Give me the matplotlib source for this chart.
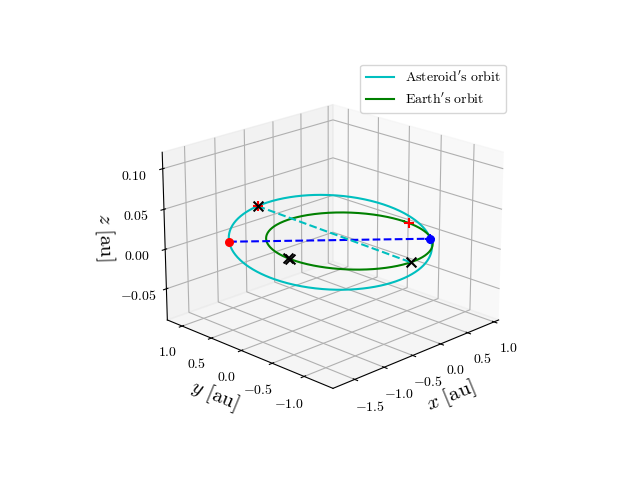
import numpy as np
import matplotlib
matplotlib.use("Agg")
import matplotlib.pyplot as plt

plt.rcParams['mathtext.fontset'] = 'cm'
plt.rcParams['font.family'] = 'serif'
plt.rcParams['font.serif'] = ['DejaVu Serif']

# asteroid orbital elements
a_ast = 1.22
e_ast = 0.19
inc_deg = 0.8
peri_dir_deg = -40.0    # direction of perihelion (= ascending node)
# Earth
r_earth = 1.0

node_nu = [180.0, 0.0]            # red (descending node), blue (perihelion)
x_marks_ast_nu = [138.0]
x_marks_earth_th = [-92.0, 176.0, 178.0]
plus_earth_th = [-5.0]

def ast_pos(nu_deg):
    nu = np.radians(np.asarray(nu_deg, float))
    r = a_ast * (1 - e_ast**2) / (1 + e_ast * np.cos(nu))
    w = np.radians(peri_dir_deg)
    i = np.radians(inc_deg)
    u = r * np.cos(nu)
    v = r * np.sin(nu)
    x = u * np.cos(w) - v * np.cos(i) * np.sin(w)
    y = u * np.sin(w) + v * np.cos(i) * np.cos(w)
    z = v * np.sin(i)
    return x, y, z

def earth_pos(th_deg):
    t = np.radians(np.asarray(th_deg, float))
    return r_earth * np.cos(t), r_earth * np.sin(t), 0 * t

fig = plt.figure(figsize=(6.4, 4.8), dpi=100)
ax = fig.add_subplot(projection='3d')
nu = np.linspace(0, 360, 400)
ax.plot(*ast_pos(nu), color='c', label=r"$\mathrm{Asteroid's\ orbit}$")
ax.plot(*earth_pos(nu), color='g', label=r"$\mathrm{Earth's\ orbit}$")

q = ast_pos([node_nu[0]]); p = ast_pos([node_nu[1]])
ax.plot([q[0][0], p[0][0]], [q[1][0], p[1][0]], [q[2][0], p[2][0]], 'b--')
ax.scatter(q[0], q[1], q[2], color='r', s=30, depthshade=False)
ax.scatter(p[0], p[1], p[2], color='b', s=30, depthshade=False)
ax.scatter(p[0], p[1], p[2], color='b', marker='+', s=60, depthshade=False)

xa = ast_pos(x_marks_ast_nu)
xe = earth_pos(x_marks_earth_th)
ax.plot([xa[0][0], xe[0][0]], [xa[1][0], xe[1][0]], [xa[2][0], xe[2][0]], 'c--')
ax.scatter(xa[0], xa[1], xa[2], marker='+', color='r', s=50, depthshade=False)
ax.scatter(xa[0], xa[1], xa[2], marker='x', color='k', s=50, depthshade=False)
ax.scatter(xe[0], xe[1], xe[2], marker='x', color='k', s=50, depthshade=False)
pe = earth_pos(plus_earth_th)
ax.scatter(pe[0], pe[1], pe[2], marker='+', color='r', s=50, depthshade=False)

ax.set_xlabel(r'$x\ [\mathrm{au}]$', fontsize=15)
ax.set_ylabel(r'$y\ [\mathrm{au}]$', fontsize=15)
ax.set_zlabel(r'$z\ [\mathrm{au}]$', fontsize=15)
ax.set_xticks([-1.5, -1.0, -0.5, 0.0, 0.5, 1.0])
ax.set_yticks([-1.0, -0.5, 0.0, 0.5, 1.0])
ax.set_zticks([-0.05, 0.0, 0.05, 0.10])
ax.xaxis.set_major_formatter(plt.FuncFormatter(lambda v, p: r'$%.1f$' % v))
ax.yaxis.set_major_formatter(plt.FuncFormatter(lambda v, p: r'$%.1f$' % v))
ax.zaxis.set_major_formatter(plt.FuncFormatter(lambda v, p: r'$%.2f$' % v))
ax.set_xlim(-1.86, 1.09)
ax.set_ylim(-1.44, 1.26)
ax.set_zlim(-0.09, 0.12)
ax.view_init(elev=20, azim=-135)
ax.legend(loc='upper right', fontsize=10)
fig.savefig('out.png')
